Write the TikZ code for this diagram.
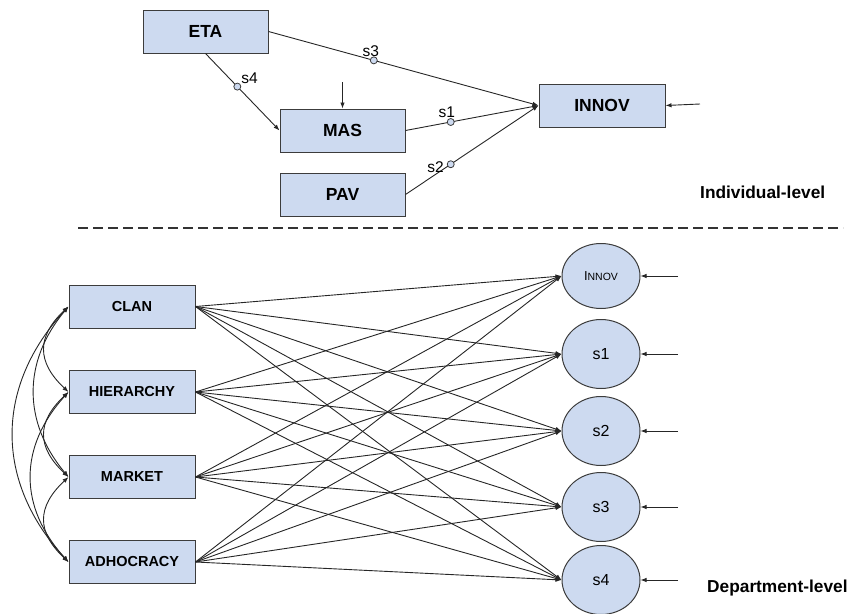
\documentclass[tikz,border=0pt]{standalone}
\usepackage{fontspec}
\setmainfont{Liberation Sans}
\usetikzlibrary{arrows.meta,shapes.geometric}
\definecolor{boxfill}{RGB}{205,218,240}
\definecolor{boxline}{RGB}{60,60,60}
\tikzset{
  tip/.tip={Latex[length=6pt,width=4.5pt]},
  conn/.style={line width=0.9pt, draw=black!85, -tip},
  topbox/.style={draw=boxline, line width=1pt, fill=boxfill, minimum width=125pt, minimum height=43pt, font=\fontsize{17.5}{17.5}\selectfont\bfseries, inner sep=0pt},
  botbox/.style={draw=boxline, line width=1pt, fill=boxfill, minimum width=126pt, minimum height=43pt, font=\fontsize{14.5}{14.5}\selectfont\bfseries, inner sep=0pt},
  lat/.style={draw=boxline, line width=1pt, fill=boxfill, ellipse, minimum width=78pt, minimum height=69pt, inner sep=0pt, font=\fontsize{16}{16}\selectfont},
  dot/.style={draw=boxline, line width=0.8pt, fill=boxfill, circle, minimum size=7pt, inner sep=0pt},
  slab/.style={font=\fontsize{15.5}{15.5}\selectfont, inner sep=1pt},
  lev/.style={font=\fontsize{17.3}{17.3}\selectfont\bfseries, anchor=west, inner sep=0pt},
}
\begin{document}
\begin{tikzpicture}[x=1pt,y=-1pt]
\useasboundingbox (0,0) rectangle (851,613);
% ---------- individual level ----------
\node[topbox] (eta) at (205.5,31.5) {ETA};
\node[topbox] (mas) at (342.5,130.5) {MAS};
\node[topbox] (pav) at (342.5,194.5) {PAV};
\node[topbox, minimum width=126pt] (innov) at (602,105.5) {INNOV};
\coordinate (masin) at (342.5,82);
\coordinate (innovin) at (700,104);
\draw[conn] (masin) -- (mas.north);
\draw[conn] (innovin) -- (innov.east);

\draw[conn] (eta.south) -- node[dot, pos=0.43] (d4) {} (mas.west);
\node[slab, anchor=south west] (l4) at ([xshift=0pt,yshift=-1pt]d4.north east) {s4};
\draw[conn] (eta.east) -- node[dot, pos=0.39] (d3) {} (innov.west);
\node[slab, anchor=south] (l3) at ([xshift=-3pt,yshift=-1pt]d3.north) {s3};
\draw[conn] (mas.east) -- node[dot, pos=0.34] (d1) {} (innov.west);
\node[slab, anchor=south] (l1) at ([xshift=-4pt,yshift=-1pt]d1.north) {s1};
\draw[conn] (pav.east) -- node[dot, pos=0.34] (d2) {} (innov.west);
\node[slab, anchor=east] (l2) at ([xshift=-2pt,yshift=-3pt]d2.west) {s2};

\node[lev] (ind) at (700,192) {Individual-level};
\coordinate (dl) at (78,228);
\coordinate (dr) at (843,228);
\draw[line width=1.8pt, draw=black!80, dash pattern=on 10pt off 5pt] (dl) -- (dr);

% ---------- department level ----------
\node[botbox] (clan) at (132,306.5) {CLAN};
\node[botbox] (hier) at (132,392) {HIERARCHY};
\node[botbox] (mark) at (132,477) {MARKET};
\node[botbox] (adho) at (132,562) {ADHOCRACY};

\node[lat, minimum height=65pt] (e0) at (601,276) {{\fontsize{13}{13}\selectfont I}{\fontsize{10.5}{10.5}\selectfont NNOV}};
\node[lat] (e1) at (601,354) {s1};
\node[lat] (e2) at (601,431) {s2};
\node[lat] (e3) at (601,507) {s3};
\node[lat] (e4) at (601,580) {s4};

\foreach \e/\y in {e0/276,e1/354,e2/431,e3/507,e4/580}{
  \coordinate (r\e) at (678,\y);
  \draw[conn] (r\e) -- (\e.east);
}
\foreach \b in {clan,hier,mark,adho}{
  \foreach \e in {e0,e1,e2,e3,e4}{
    \draw[conn] (\b.east) -- (\e.west);
  }
}
% covariances
\draw[conn, tip-tip] (clan.west) .. controls +(-32,30) and +(-32,-30) .. (hier.west);
\draw[conn, tip-tip] (hier.west) .. controls +(-32,30) and +(-32,-30) .. (mark.west);
\draw[conn, tip-tip] (mark.west) .. controls +(-32,30) and +(-32,-30) .. (adho.west);
\draw[conn, tip-tip] (clan.west) .. controls +(-46,55) and +(-46,-55) .. (mark.west);
\draw[conn, tip-tip] (hier.west) .. controls +(-50,55) and +(-50,-55) .. (adho.west);
\draw[conn, tip-tip] (clan.west) .. controls +(-74,80) and +(-74,-80) .. (adho.west);

\node[lev] (dep) at (707,588) {Department-level};
\end{tikzpicture}
\end{document}
